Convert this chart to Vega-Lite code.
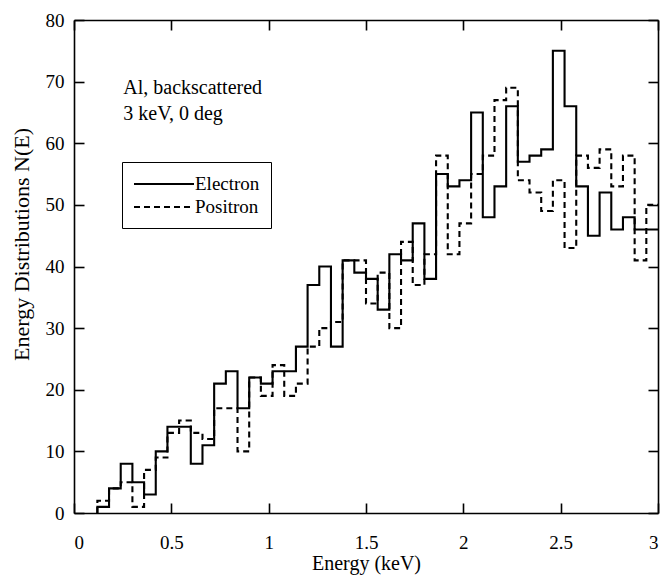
{
  "$schema": "https://vega.github.io/schema/vega-lite/v6.json",
  "width": 584,
  "height": 493,
  "autosize": {"type": "none"},
  "padding": {"left": 74, "top": 20, "right": 6, "bottom": 66},
  "background": "white",
  "config": {
    "view": {"stroke": null},
    "font": "Liberation Serif",
    "axis": {
      "domainColor": "black", "domainWidth": 1.6,
      "tickColor": "black", "tickWidth": 1.6, "tickSize": -10,
      "labelColor": "black", "labelFont": "Liberation Serif", "labelFontSize": 19,
      "titleColor": "black", "titleFont": "Liberation Serif", "titleFontSize": 21, "titleFontWeight": "normal",
      "grid": false
    }
  },
  "data": {"values": [
    {"series": "Electron", "E": 0.12, "N": 0},
    {"series": "Electron", "E": 0.18, "N": 1},
    {"series": "Electron", "E": 0.24, "N": 4},
    {"series": "Electron", "E": 0.30, "N": 8},
    {"series": "Electron", "E": 0.36, "N": 5},
    {"series": "Electron", "E": 0.42, "N": 3},
    {"series": "Electron", "E": 0.48, "N": 10},
    {"series": "Electron", "E": 0.54, "N": 14},
    {"series": "Electron", "E": 0.60, "N": 14},
    {"series": "Electron", "E": 0.66, "N": 8},
    {"series": "Electron", "E": 0.72, "N": 11},
    {"series": "Electron", "E": 0.78, "N": 21},
    {"series": "Electron", "E": 0.84, "N": 23},
    {"series": "Electron", "E": 0.90, "N": 17},
    {"series": "Electron", "E": 0.96, "N": 22},
    {"series": "Electron", "E": 1.02, "N": 21},
    {"series": "Electron", "E": 1.08, "N": 23},
    {"series": "Electron", "E": 1.14, "N": 23},
    {"series": "Electron", "E": 1.20, "N": 27},
    {"series": "Electron", "E": 1.26, "N": 37},
    {"series": "Electron", "E": 1.32, "N": 40},
    {"series": "Electron", "E": 1.38, "N": 27},
    {"series": "Electron", "E": 1.44, "N": 41},
    {"series": "Electron", "E": 1.50, "N": 39},
    {"series": "Electron", "E": 1.56, "N": 38},
    {"series": "Electron", "E": 1.62, "N": 33},
    {"series": "Electron", "E": 1.68, "N": 42},
    {"series": "Electron", "E": 1.74, "N": 41},
    {"series": "Electron", "E": 1.80, "N": 47},
    {"series": "Electron", "E": 1.86, "N": 38},
    {"series": "Electron", "E": 1.92, "N": 55},
    {"series": "Electron", "E": 1.98, "N": 53},
    {"series": "Electron", "E": 2.04, "N": 54},
    {"series": "Electron", "E": 2.10, "N": 65},
    {"series": "Electron", "E": 2.16, "N": 48},
    {"series": "Electron", "E": 2.22, "N": 53},
    {"series": "Electron", "E": 2.28, "N": 66},
    {"series": "Electron", "E": 2.34, "N": 57},
    {"series": "Electron", "E": 2.40, "N": 58},
    {"series": "Electron", "E": 2.46, "N": 59},
    {"series": "Electron", "E": 2.52, "N": 75},
    {"series": "Electron", "E": 2.58, "N": 66},
    {"series": "Electron", "E": 2.64, "N": 53},
    {"series": "Electron", "E": 2.70, "N": 45},
    {"series": "Electron", "E": 2.76, "N": 52},
    {"series": "Electron", "E": 2.82, "N": 46},
    {"series": "Electron", "E": 2.88, "N": 48},
    {"series": "Electron", "E": 2.94, "N": 46},
    {"series": "Electron", "E": 3.00, "N": 46},
    {"series": "Positron", "E": 0.12, "N": 0},
    {"series": "Positron", "E": 0.18, "N": 2},
    {"series": "Positron", "E": 0.24, "N": 4},
    {"series": "Positron", "E": 0.30, "N": 5},
    {"series": "Positron", "E": 0.36, "N": 1},
    {"series": "Positron", "E": 0.42, "N": 7},
    {"series": "Positron", "E": 0.48, "N": 9},
    {"series": "Positron", "E": 0.54, "N": 13},
    {"series": "Positron", "E": 0.60, "N": 15},
    {"series": "Positron", "E": 0.66, "N": 13},
    {"series": "Positron", "E": 0.72, "N": 12},
    {"series": "Positron", "E": 0.78, "N": 17},
    {"series": "Positron", "E": 0.84, "N": 17},
    {"series": "Positron", "E": 0.90, "N": 10},
    {"series": "Positron", "E": 0.96, "N": 22},
    {"series": "Positron", "E": 1.02, "N": 19},
    {"series": "Positron", "E": 1.08, "N": 24},
    {"series": "Positron", "E": 1.14, "N": 19},
    {"series": "Positron", "E": 1.20, "N": 21},
    {"series": "Positron", "E": 1.26, "N": 27},
    {"series": "Positron", "E": 1.32, "N": 30},
    {"series": "Positron", "E": 1.38, "N": 31},
    {"series": "Positron", "E": 1.44, "N": 41},
    {"series": "Positron", "E": 1.50, "N": 41},
    {"series": "Positron", "E": 1.56, "N": 34},
    {"series": "Positron", "E": 1.62, "N": 39},
    {"series": "Positron", "E": 1.68, "N": 30},
    {"series": "Positron", "E": 1.74, "N": 44},
    {"series": "Positron", "E": 1.80, "N": 37},
    {"series": "Positron", "E": 1.86, "N": 42},
    {"series": "Positron", "E": 1.92, "N": 58},
    {"series": "Positron", "E": 1.98, "N": 42},
    {"series": "Positron", "E": 2.04, "N": 47},
    {"series": "Positron", "E": 2.10, "N": 55},
    {"series": "Positron", "E": 2.16, "N": 58},
    {"series": "Positron", "E": 2.22, "N": 67},
    {"series": "Positron", "E": 2.28, "N": 69},
    {"series": "Positron", "E": 2.34, "N": 54},
    {"series": "Positron", "E": 2.40, "N": 52},
    {"series": "Positron", "E": 2.46, "N": 49},
    {"series": "Positron", "E": 2.52, "N": 54},
    {"series": "Positron", "E": 2.58, "N": 43},
    {"series": "Positron", "E": 2.64, "N": 58},
    {"series": "Positron", "E": 2.70, "N": 56},
    {"series": "Positron", "E": 2.76, "N": 59},
    {"series": "Positron", "E": 2.82, "N": 53},
    {"series": "Positron", "E": 2.88, "N": 58},
    {"series": "Positron", "E": 2.94, "N": 41},
    {"series": "Positron", "E": 3.00, "N": 50}
  ]},
  "layer": [
    {
      "mark": {"type": "line", "interpolate": "step-before", "color": "black", "strokeWidth": 2.1},
      "encoding": {
        "x": {"field": "E", "type": "quantitative", "scale": {"domain": [0, 3], "nice": false},
              "axis": {"orient": "bottom", "values": [0, 0.5, 1, 1.5, 2, 2.5, 3], "format": "~g", "labelPadding": 30, "title": "Energy (keV)", "titlePadding": 1, "titleFontSize": 20}},
        "y": {"field": "N", "type": "quantitative", "scale": {"domain": [0, 80], "nice": false},
              "axis": {"orient": "left", "values": [0, 10, 20, 30, 40, 50, 60, 70, 80], "labelPadding": 20, "title": "Energy Distributions N(E)", "titlePadding": 12, "titleFontSize": 22, "titleY": 224}},
        "strokeDash": {"field": "series", "type": "nominal",
          "scale": {"domain": ["Electron", "Positron"], "range": [[1, 0], [6, 4]]},
          "legend": {"orient": "none", "legendX": 48, "legendY": 142, "title": null,
            "strokeColor": "black", "padding": 11, "symbolType": "M-1,0H5", "symbolSize": 400,
            "symbolStrokeWidth": 2, "symbolStrokeColor": "black",
            "labelFont": "Liberation Serif", "labelFontSize": 19, "labelColor": "black", "labelOffset": 40, "rowPadding": 2}}
      }
    },
    {
      "data": {"values": [{}]},
      "mark": {"type": "text", "text": "Al, backscattered", "align": "left", "baseline": "alphabetic", "font": "Liberation Serif", "fontSize": 20, "color": "black"},
      "encoding": {
        "x": {"datum": 0.253, "type": "quantitative", "axis": {"orient": "top", "values": [0, 0.5, 1, 1.5, 2, 2.5, 3], "labels": false, "title": null}},
        "y": {"datum": 68, "type": "quantitative", "axis": {"orient": "right", "values": [0, 10, 20, 30, 40, 50, 60, 70, 80], "labels": false, "title": null}}
      }
    },
    {
      "data": {"values": [{}]},
      "mark": {"type": "text", "text": "3 keV, 0 deg", "align": "left", "baseline": "alphabetic", "font": "Liberation Serif", "fontSize": 20, "color": "black"},
      "encoding": {
        "x": {"datum": 0.253, "type": "quantitative", "axis": null},
        "y": {"datum": 63.8, "type": "quantitative", "axis": null}
      }
    }
  ],
  "resolve": {"axis": {"x": "independent", "y": "independent"}}
}
